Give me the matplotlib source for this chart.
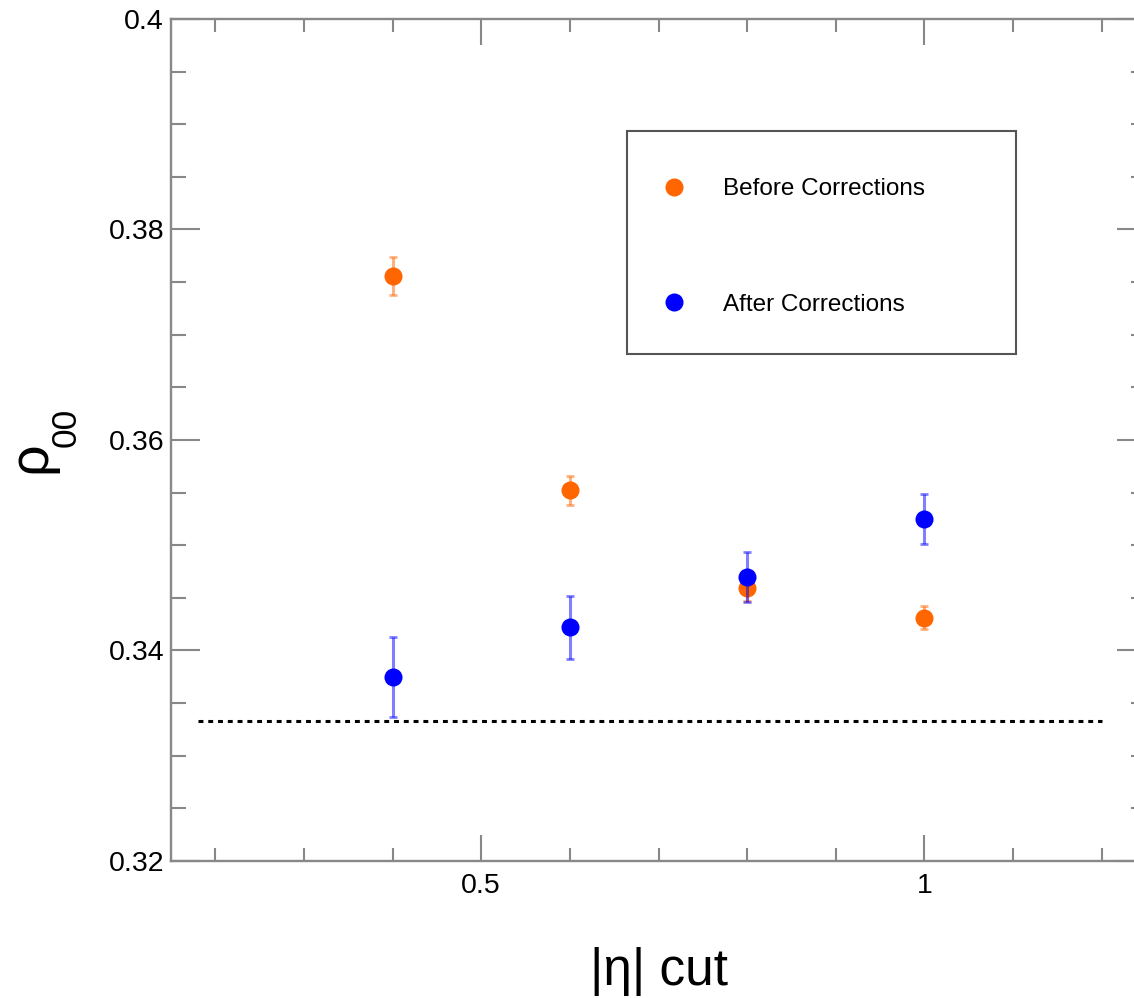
import matplotlib
matplotlib.use('Agg')
import matplotlib.pyplot as plt
from matplotlib.patches import Rectangle
from matplotlib.ticker import MultipleLocator, FuncFormatter

plt.rcParams['font.family'] = ['Liberation Sans', 'DejaVu Sans']

# |eta| cut values
eta_cut = [0.4, 0.6, 0.8, 1.0]

# rho_00 before corrections
rho_before = [0.3756, 0.3552, 0.3459, 0.3431]
err_before = [0.0018, 0.0014, 0.0012, 0.0011]

# rho_00 after corrections
rho_after = [0.3375, 0.3422, 0.3470, 0.3525]
err_after = [0.0038, 0.0030, 0.0024, 0.0024]

rho_ref = 1.0 / 3.0
ref_range = [0.18, 1.2]

orange = '#ff6600'
blue = '#0000ff'
gray = '#888888'

W, H = 1134, 998
fig = plt.figure(figsize=(W / 100, H / 100), dpi=100)
ax = fig.add_axes([0.1508, 0.1373, 0.8598, 0.8437])

ax.plot(ref_range, [rho_ref, rho_ref], color='black', lw=2.2,
        linestyle=(0, (1.6, 1.6)))

for x, y, e, c, lab in [(eta_cut, rho_before, err_before, orange, 'Before Corrections'),
                        (eta_cut, rho_after, err_after, blue, 'After Corrections')]:
    ax.errorbar(x, y, yerr=e, fmt='none', ecolor=c, alpha=0.5,
                elinewidth=2.2, capsize=3, capthick=2)
    ax.plot(x, y, 'o', color=c, ms=13, mew=0, label=lab)

ax.set_xlim(0.15, 1.25)
ax.set_ylim(0.32, 0.40)

ax.xaxis.set_major_locator(MultipleLocator(0.5))
ax.xaxis.set_minor_locator(MultipleLocator(0.1))
ax.yaxis.set_major_locator(MultipleLocator(0.02))
ax.yaxis.set_minor_locator(MultipleLocator(0.005))
fmt = FuncFormatter(lambda v, p: '%g' % round(v, 4))
ax.xaxis.set_major_formatter(fmt)
ax.yaxis.set_major_formatter(fmt)

for s in ax.spines.values():
    s.set_color(gray)
    s.set_linewidth(1.7)

ax.tick_params(which='both', direction='in', top=True, right=True,
               color=gray, width=1.5, labelsize=20.5)
ax.tick_params(axis='x', which='major', length=18.7, pad=9)
ax.tick_params(axis='x', which='minor', length=9.4)
ax.tick_params(axis='y', which='major', length=21, pad=5)
ax.tick_params(axis='y', which='minor', length=10.8)

ax.set_xlabel('|η| cut', fontsize=37, labelpad=34)

# y label: rho with a deep "00" subscript, as in the original
fig.text(45 / W, 1 - 457 / H, 'ρ', fontsize=40, rotation=90,
         rotation_mode='anchor', ha='center', va='baseline')
fig.text(76 / W, 1 - 427 / H, '00', fontsize=25.5, rotation=90,
         rotation_mode='anchor', ha='center', va='baseline')

ax.add_patch(Rectangle((0.4677, 0.602), 0.399, 0.265, transform=ax.transAxes,
                       fill=False, edgecolor='#555555', lw=1.5))
ax.legend(loc='upper left', bbox_to_anchor=(0.503, 0.811), frameon=False,
          fontsize=17.5, handlelength=1.0, handletextpad=1.55, labelspacing=3.85,
          borderpad=0, borderaxespad=0)

fig.savefig('out.png', dpi=100)
